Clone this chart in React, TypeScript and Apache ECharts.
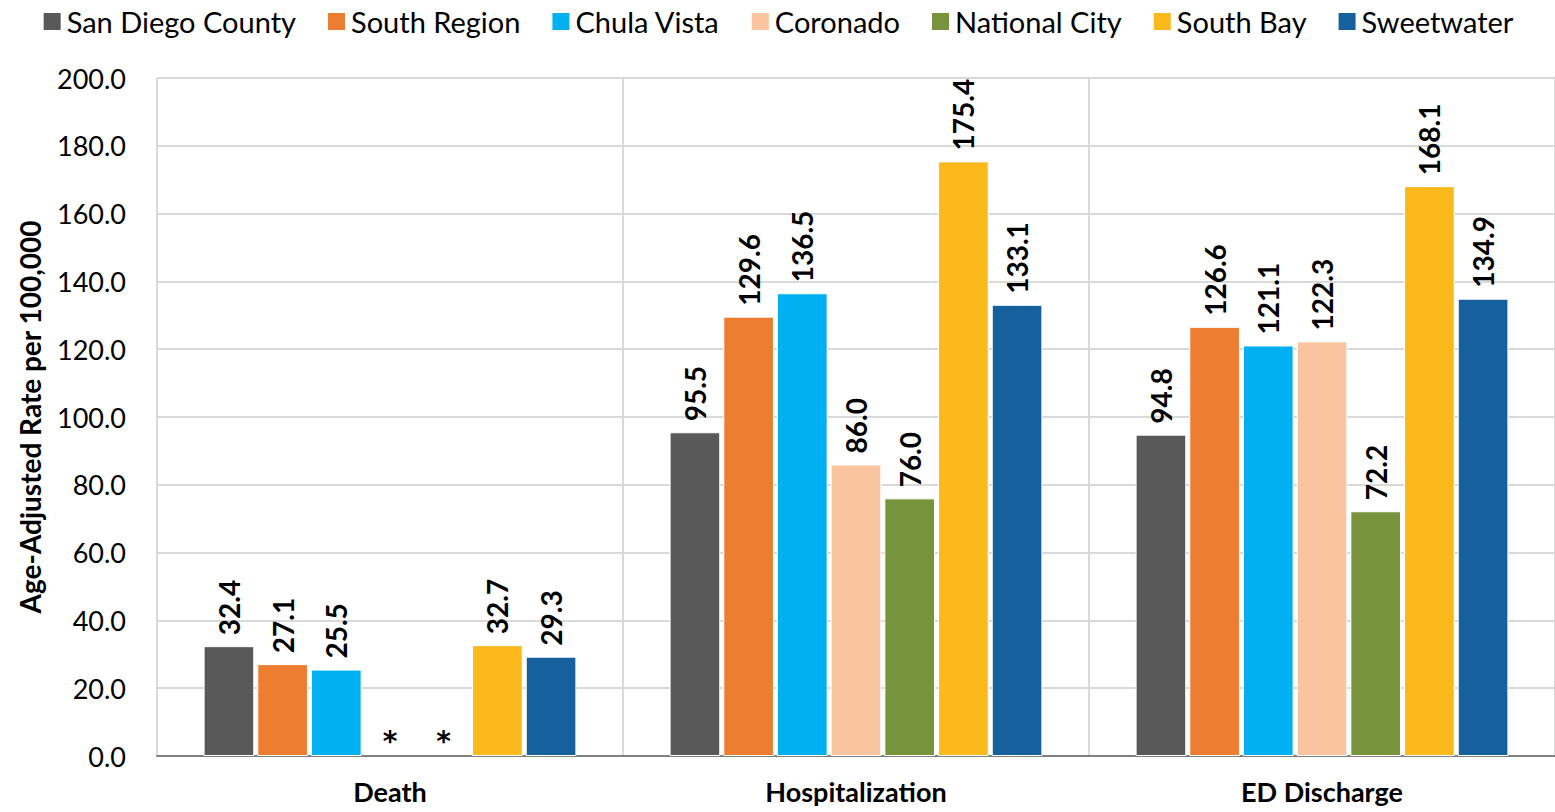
import React, { useEffect, useRef } from "react";
import * as echarts from "echarts";

const categories = ["Death", "Hospitalization", "ED Discharge"];
const seriesNames = ["San Diego County", "South Region", "Chula Vista", "Coronado", "National City", "South Bay", "Sweetwater"];
const sanDiegoCounty = [32.4, 95.5, 94.8];
const southRegion = [27.1, 129.6, 126.6];
const chulaVista = [25.5, 136.5, 121.1];
const coronado = [null, 86.0, 122.3];
const nationalCity = [null, 76.0, 72.2];
const southBay = [32.7, 175.4, 168.1];
const sweetwater = [29.3, 133.1, 134.9];
const colors = ["#595959", "#ED7D31", "#00B0F0", "#F9C49E", "#77933C", "#FBB91B", "#16609E"];
const yTicks = { min: 0, max: 200, interval: 20 };

const FONT = "Lato, 'Noto Sans', sans-serif";

export default function App() {
  const ref = useRef<HTMLDivElement>(null);
  useEffect(() => {
    const chart = echarts.init(ref.current!, null, { renderer: "svg" });
    const all = [sanDiegoCounty, southRegion, chulaVista, coronado, nationalCity, southBay, sweetwater];
    const series = all.map((vals, i) => ({
      name: seriesNames[i],
      type: "bar",
      barGap: "6%",
      barCategoryGap: "20%",
      itemStyle: { color: colors[i], borderColor: "#fff", borderWidth: 1 },
      label: {
        show: true,
        position: "top",
        rotate: 90,
        align: "left",
        verticalAlign: "middle",
        distance: 11,
        fontFamily: FONT,
        fontWeight: "bold",
        fontSize: 28,
        color: "#000",
        formatter: (p: any) => Number(p.value).toFixed(1),
      },
      data: vals.map((v) =>
        v === null
          ? {
              value: 0,
              itemStyle: { borderWidth: 0, color: "transparent" },
              label: {
                formatter: "*",
                rotate: 0,
                align: "center",
                verticalAlign: "bottom",
                distance: 1,
                fontSize: 28,
                fontFamily: "'DejaVu Sans', sans-serif",
                fontWeight: "bold",
              },
            }
          : v
      ),
    }));
    chart.setOption({
      animation: false,
      textStyle: { fontFamily: FONT },
      legend: {
        top: 2,
        left: "center",
        itemWidth: 19,
        itemHeight: 19,
        itemGap: 30,
        icon: "rect",
        textStyle: { fontFamily: FONT, fontSize: 29, color: "#000" },
        data: seriesNames,
      },
      grid: { left: 157, right: 0, top: 78, bottom: 56 },
      xAxis: {
        type: "category",
        data: categories,
        axisLine: { lineStyle: { color: "#808080", width: 2 } },
        axisTick: { show: false },
        splitLine: { show: true, lineStyle: { color: "#d9d9d9", width: 2 } },
        axisLabel: { fontFamily: FONT, fontWeight: "bold", fontSize: 27, color: "#000", margin: 22 },
      },
      yAxis: {
        type: "value",
        ...yTicks,
        name: "Age-Adjusted Rate per 100,000",
        nameLocation: "middle",
        nameGap: 113,
        nameTextStyle: { fontFamily: FONT, fontWeight: "bold", fontSize: 28, color: "#000" },
        axisLine: { show: false },
        axisTick: { show: false },
        splitLine: { lineStyle: { color: "#d9d9d9", width: 2 } },
        axisLabel: {
          fontFamily: FONT,
          fontSize: 27,
          color: "#000",
          margin: 31,
          formatter: (v: number) => v.toFixed(1),
        },
      },
      series,
    });
    return () => chart.dispose();
  }, []);
  return <div ref={ref} style={{ width: 1555, height: 812, position: "absolute", left: 0, top: 0 }} />;
}
